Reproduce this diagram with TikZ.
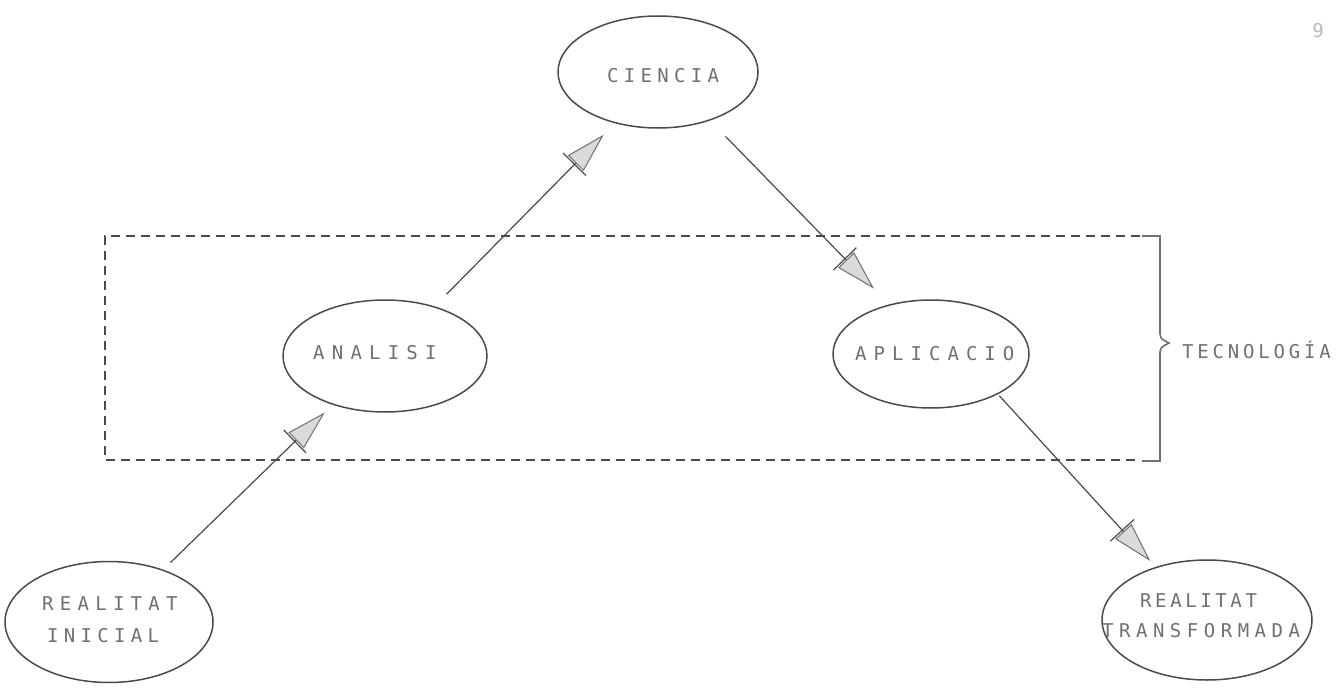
\documentclass[tikz,border=0pt]{standalone}
\usepackage{fontspec}
\setmonofont{DejaVu Sans Mono}
\usetikzlibrary{shapes.geometric,arrows.meta}
\definecolor{ink}{HTML}{4A4A4A}
\definecolor{pencil}{HTML}{707070}
\definecolor{headfill}{HTML}{DADADA}
% widely tracked stencil lettering
\newcommand\lettered[2]{{\addfontfeature{LetterSpace=#1}#2}}

\begin{document}
\begin{tikzpicture}[x=1pt,y=-1pt,
  oval/.style={ellipse, draw=ink, line width=1.5pt, inner sep=0pt},
  lbl/.style={anchor=base west, inner sep=0pt, text=pencil,
    font=\ttfamily\fontsize{19}{19}\selectfont},
  flow/.style={draw=ink, line width=1.2pt,
    -{Bar[width=32pt,sep=1pt,color=ink]Triangle[length=40pt,width=22pt,fill=headfill,color=pencil,line width=1pt]}}
]
\fill[white] (0,0) rectangle (1343,695);
\path[use as bounding box] (0,0) rectangle (1343,695);

% process stages
\node[oval, minimum width=200pt, minimum height=112pt] (ci) at (658,72) {};
\node[oval, minimum width=204pt, minimum height=112pt] (an) at (385,356) {};
\node[oval, minimum width=196pt, minimum height=108pt] (ap) at (931,354) {};
\node[oval, minimum width=208pt, minimum height=121pt] (ri) at (109,622) {};
\node[oval, minimum width=210pt, minimum height=120pt] (rt) at (1207,620) {};

% labels
\node[lbl] (tci) at (607,83) {\lettered{28}{CIENCIA}};
\node[lbl] (tan) at (313,359) {\lettered{38}{ANALISI}};
\node[lbl] (tap) at (855,360) {\lettered{37}{APLICACIO}};
\node[lbl] (tri1) at (42,610) {\lettered{33}{REALITAT}};
\node[lbl] (tri2) at (47,642) {\lettered{28}{INICIAL}};
\node[lbl] (trt1) at (1140,607) {\lettered{19}{REALITAT}};
\node[lbl] (trt2) at (1102,637) {\lettered{29}{TRANSFORMADA}};

% flow of the process
\draw[flow, shorten <=10pt, shorten >=11pt] (ri.44) -- (an.223);
\draw[flow, shorten <=17pt, shorten >=16pt] (an.45) -- (ci.230);
\draw[flow, shorten <=22pt, shorten >=22pt] (ci.-43) -- (ap.130);
\draw[flow, shorten <=2pt, shorten >=8pt] (ap.-31) -- (rt.134);

% technology band
\draw[ink, line width=1.2pt, dash pattern=on 9pt off 6pt]
  (1140,236) -- (105,236) -- (105,460) -- (1140,460);
\draw[pencil, line width=1.6pt]
  (1142,236) -- (1160,236) -- (1160,334)
  .. controls (1160,340) and (1166,341) .. (1169,343)
  .. controls (1166,345) and (1160,346) .. (1160,352)
  -- (1160,461) -- (1142,461);
\node[lbl] (tec) at (1182,358) {\lettered{20}{TECNOLOGÍA}};

% page number
\node[text=gray!55, inner sep=0pt, font=\ttfamily\fontsize{19}{19}\selectfont] (pg) at (1318,31) {9};
\end{tikzpicture}
\end{document}
